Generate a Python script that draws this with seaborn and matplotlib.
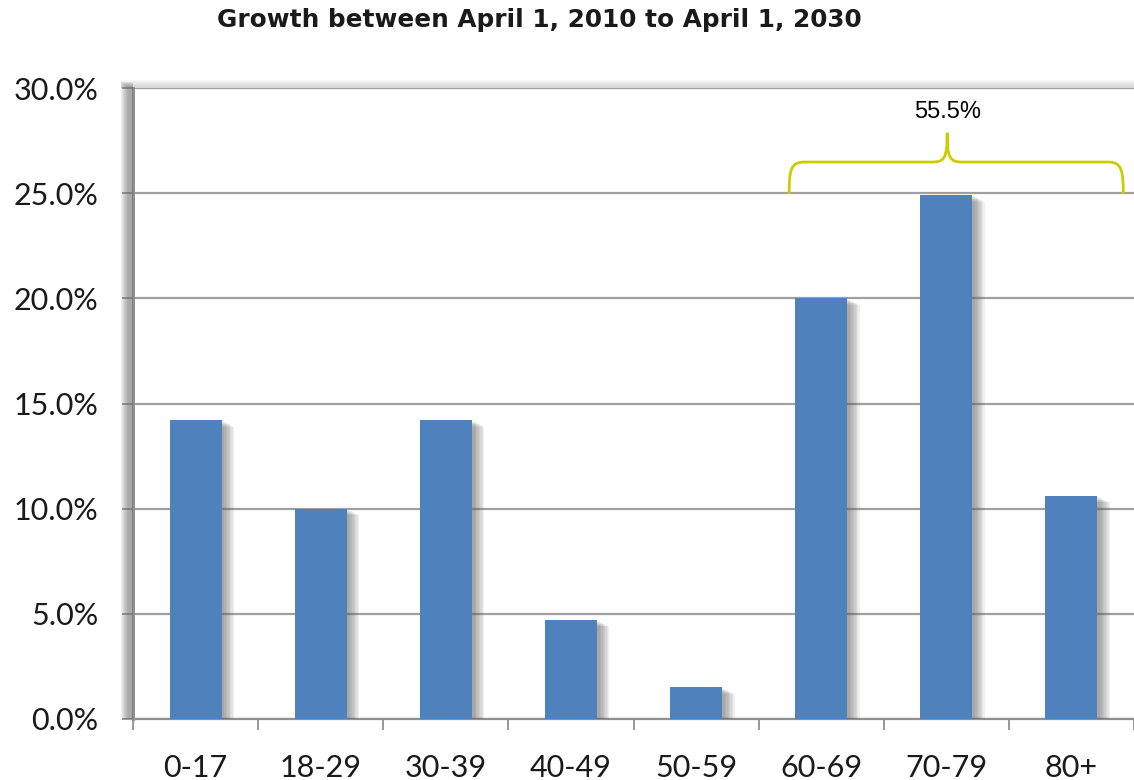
import numpy as np
import pandas as pd
import matplotlib
matplotlib.use("Agg")
import matplotlib.pyplot as plt
import matplotlib.patheffects as pe
from matplotlib.path import Path
from matplotlib.patches import PathPatch, Rectangle
import seaborn as sns

# ---- data ----
age_groups = ["0-17", "18-29", "30-39", "40-49", "50-59", "60-69", "70-79", "80+"]
growth_pct = [14.2, 10.0, 14.2, 4.7, 1.5, 20.0, 24.9, 10.6]
y_ticks = [0, 5, 10, 15, 20, 25, 30]
bracket_label = "55.5%"
title = "Growth between April 1, 2010 to April 1, 2030"

df = pd.DataFrame({"age": age_groups, "growth": growth_pct})

sns.set_theme(style="white")
plt.rcParams["font.family"] = ["Lato", "DejaVu Sans"]

W, H, DPI = 1134, 780, 100
fig = plt.figure(figsize=(W / DPI, H / DPI), dpi=DPI)
fig.patch.set_facecolor("white")

ax_left_px, ax_top_px, ax_bottom_px = 133, 88, 719
ax = fig.add_axes([ax_left_px / W, (H - ax_bottom_px) / H,
                   (W - ax_left_px) / W, (ax_bottom_px - ax_top_px) / H])

# plot-area shadow (left and top)
for i in range(8):
    fig.patches.append(Rectangle(((ax_left_px - 12 + i) / W, (H - ax_bottom_px) / H),
                                 (12 - i) / W, (ax_bottom_px - ax_top_px + 6 - i * 0.7) / H,
                                 transform=fig.transFigure, facecolor="#707070",
                                 edgecolor="none", alpha=0.10, zorder=0))
    fig.patches.append(Rectangle(((ax_left_px - 12) / W, (H - ax_top_px) / H),
                                 1.0, (8 - i) / H,
                                 transform=fig.transFigure, facecolor="#909090",
                                 edgecolor="none", alpha=0.05, zorder=0))

sns.barplot(data=df, x="age", y="growth", color="#4F81BD", width=0.416,
            saturation=1, ax=ax, zorder=3, linewidth=0, edgecolor="none")

shadow_fx = [pe.SimplePatchShadow(offset=(k, -0.5 * k), shadow_rgbFace="#606060", alpha=0.09)
             for k in range(9, 1, -1)]
for bar in ax.patches:
    bar.set_path_effects(shadow_fx + [pe.Normal()])

n = len(age_groups)
ax.set_xlim(-0.5, n - 0.5)
ax.set_ylim(0, 30)
ax.set_yticks(y_ticks)
ax.set_yticklabels([f"{v:.1f}%" for v in y_ticks])
ax.yaxis.grid(True, color="#a0a0a0", linewidth=1.6, zorder=1)
ax.set_axisbelow(True)
ax.set_xlabel("")
ax.set_ylabel("")

ax.set_xticks(np.arange(-0.5, n + 0.5, 1.0), minor=True)
ax.tick_params(axis="x", which="major", length=0, pad=25, labelsize=22, labelcolor="#1a1a1a")
ax.tick_params(axis="x", which="minor", length=8, width=1.3, color="#909090", direction="out", bottom=True)
ax.tick_params(axis="y", which="major", length=8, width=1.3, color="#909090", pad=17,
               labelsize=22, labelcolor="#1a1a1a", left=True)

for s in ["top", "right"]:
    ax.spines[s].set_visible(False)
ax.spines["left"].set_color("#8a8a8a")
ax.spines["left"].set_linewidth(2.0)
ax.spines["bottom"].set_color("#909090")
ax.spines["bottom"].set_linewidth(1.6)

# curly bracket over 60-69 .. 80+
xl, xr, xc = 4.744, 7.414, 6.007
y0, y1, ytip = 24.96, 26.48, 27.87
c = 0.12
verts = [
    (xl, y0), (xl, y0 + 1.1), (xl + 0.01, y1), (xl + c, y1),
    (xc - c, y1), (xc - 0.02, y1), (xc, y1 + 0.2), (xc, ytip),
    (xc, y1 + 0.2), (xc + 0.02, y1), (xc + c, y1),
    (xr - c, y1), (xr - 0.01, y1), (xr, y0 + 1.1), (xr, y0),
]
codes = [Path.MOVETO, Path.CURVE4, Path.CURVE4, Path.CURVE4,
         Path.LINETO, Path.CURVE4, Path.CURVE4, Path.CURVE4,
         Path.CURVE4, Path.CURVE4, Path.CURVE4,
         Path.LINETO, Path.CURVE4, Path.CURVE4, Path.CURVE4]
ax.add_patch(PathPatch(Path(verts, codes), facecolor="none", edgecolor="#CCCC00",
                       linewidth=2.0, zorder=5, clip_on=False))
ax.text(xc, 28.87, bracket_label, ha="center", va="center", fontsize=17,
        family=["Liberation Sans", "DejaVu Sans"], color="black", zorder=6)

fig.text(539 / W, 1 - 20 / H, title, ha="center", va="center", fontsize=17.8,
         fontweight="bold", family=["DejaVu Sans"], color="#1a1a1a")

fig.savefig("out.png", dpi=DPI, facecolor="white")
